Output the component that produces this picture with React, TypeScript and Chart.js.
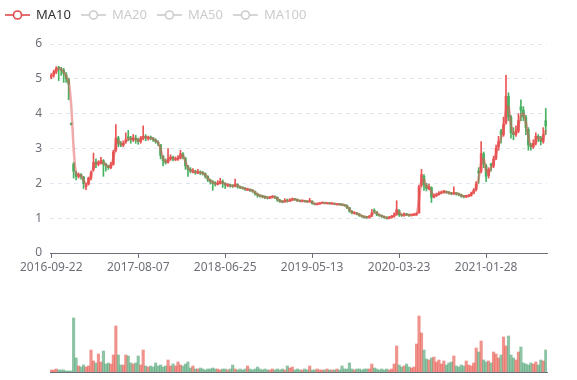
import React, { useEffect, useRef } from 'react';
import { Chart, registerables } from 'chart.js';

Chart.register(...registerables);

const tickLabels = ['2016-09-22', '2017-08-07', '2018-06-25', '2019-05-13', '2020-03-23', '2021-01-28'];
const tickEvery = 35;
const legendNames = ['MA10', 'MA20', 'MA50', 'MA100'];
const maWindow = 2;

const opens = [
  5.05, 5.10, 5.20, 5.32, 5.28, 5.25, 5.12, 4.98, 3.72, 2.55,
  2.30, 2.20, 2.25, 2.18, 1.90, 1.98, 2.15, 2.40, 2.62, 2.55,
  2.58, 2.65, 2.55, 2.50, 2.45, 2.55, 2.95, 3.30, 3.15, 3.10,
  3.20, 3.34, 3.30, 3.24, 3.30, 3.26, 3.20, 3.30, 3.35, 3.28,
  3.32, 3.30, 3.25, 3.18, 3.10, 2.78, 2.65, 2.60, 2.70, 2.75,
  2.68, 2.70, 2.72, 2.85, 2.72, 2.50, 2.40, 2.33, 2.35, 2.30,
  2.32, 2.30, 2.28, 2.20, 2.10, 2.05, 2.00, 1.98, 2.00, 2.05,
  2.00, 1.94, 1.95, 1.93, 1.92, 1.97, 1.90, 1.88, 1.86, 1.81,
  1.82, 1.80, 1.77, 1.70, 1.66, 1.63, 1.62, 1.60, 1.58, 1.60,
  1.62, 1.60, 1.52, 1.48, 1.47, 1.50, 1.49, 1.52, 1.55, 1.54,
  1.50, 1.49, 1.50, 1.48, 1.47, 1.49, 1.42, 1.40, 1.41, 1.43,
  1.44, 1.42, 1.43, 1.41, 1.42, 1.39, 1.40, 1.39, 1.38, 1.37,
  1.30, 1.20, 1.14, 1.15, 1.12, 1.08, 1.05, 1.03, 1.02, 1.06,
  1.22, 1.18, 1.10, 1.08, 1.05, 1.02, 1.00, 1.02, 1.05, 1.10,
  1.22, 1.10, 1.08, 1.11, 1.10, 1.08, 1.09, 1.10, 1.15, 1.95,
  2.20, 1.95, 1.85, 1.88, 1.60, 1.65, 1.68, 1.72, 1.75, 1.76,
  1.74, 1.72, 1.70, 1.72, 1.70, 1.68, 1.63, 1.62, 1.63, 1.65,
  1.72, 1.82, 2.35, 2.35, 2.85, 2.50, 2.22, 2.55, 2.50, 2.72,
  3.05, 3.50, 3.40, 3.75, 4.50, 3.90, 3.45, 3.40, 3.50, 4.20,
  4.10, 3.90, 3.55, 3.10, 3.05, 3.15, 3.35, 3.30, 3.20, 3.80,
];

const closes = [
  5.10, 5.20, 5.30, 5.30, 5.25, 5.15, 5.00, 4.85, 3.70, 2.35,
  2.20, 2.25, 2.20, 2.00, 1.95, 2.15, 2.30, 2.60, 2.55, 2.60,
  2.65, 2.55, 2.50, 2.45, 2.55, 2.90, 3.30, 3.15, 3.10, 3.15,
  3.25, 3.30, 3.25, 3.30, 3.25, 3.20, 3.30, 3.35, 3.30, 3.30,
  3.30, 3.25, 3.20, 3.15, 2.80, 2.65, 2.60, 2.70, 2.75, 2.70,
  2.70, 2.72, 2.85, 2.75, 2.50, 2.40, 2.35, 2.35, 2.30, 2.32,
  2.30, 2.28, 2.20, 2.10, 2.05, 2.00, 1.98, 2.00, 2.05, 2.00,
  1.95, 1.95, 1.93, 1.92, 1.98, 1.90, 1.88, 1.86, 1.83, 1.82,
  1.80, 1.78, 1.70, 1.66, 1.63, 1.62, 1.60, 1.58, 1.60, 1.62,
  1.60, 1.52, 1.48, 1.47, 1.50, 1.49, 1.52, 1.55, 1.54, 1.50,
  1.49, 1.50, 1.48, 1.47, 1.50, 1.42, 1.40, 1.41, 1.43, 1.44,
  1.43, 1.43, 1.42, 1.42, 1.40, 1.40, 1.39, 1.38, 1.37, 1.30,
  1.20, 1.15, 1.15, 1.12, 1.08, 1.05, 1.03, 1.02, 1.05, 1.15,
  1.20, 1.10, 1.08, 1.05, 1.02, 1.00, 1.02, 1.05, 1.10, 1.25,
  1.10, 1.08, 1.10, 1.10, 1.08, 1.10, 1.10, 1.12, 1.90, 2.25,
  1.95, 1.85, 1.90, 1.60, 1.65, 1.68, 1.72, 1.75, 1.76, 1.74,
  1.72, 1.70, 1.72, 1.70, 1.68, 1.63, 1.62, 1.63, 1.65, 1.72,
  1.80, 1.98, 2.30, 2.85, 2.55, 2.20, 2.40, 2.50, 2.70, 3.00,
  3.20, 3.40, 3.70, 4.50, 3.90, 3.45, 3.40, 3.50, 3.80, 4.10,
  3.90, 3.60, 3.10, 3.05, 3.15, 3.35, 3.30, 3.20, 3.40, 3.65,
];

const highs = [
  5.15, 5.25, 5.35, 5.36, 5.33, 5.30, 5.18, 5.02, 3.72, 2.60,
  2.35, 2.30, 2.28, 2.20, 2.00, 2.18, 2.35, 2.87, 2.70, 2.65,
  2.75, 2.68, 2.58, 2.52, 2.60, 2.95, 3.69, 3.35, 3.20, 3.22,
  3.45, 3.52, 3.35, 3.40, 3.38, 3.30, 3.35, 3.65, 3.40, 3.36,
  3.36, 3.32, 3.28, 3.22, 3.12, 2.80, 2.70, 3.00, 2.82, 2.78,
  2.76, 2.80, 2.95, 2.88, 2.75, 2.52, 2.45, 2.42, 2.38, 2.40,
  2.36, 2.34, 2.30, 2.22, 2.12, 2.08, 2.05, 2.08, 2.15, 2.10,
  2.02, 1.99, 1.98, 1.96, 2.12, 1.99, 1.92, 1.90, 1.88, 1.86,
  1.84, 1.82, 1.78, 1.72, 1.68, 1.66, 1.64, 1.62, 1.63, 1.65,
  1.64, 1.61, 1.54, 1.50, 1.56, 1.55, 1.56, 1.58, 1.57, 1.55,
  1.52, 1.52, 1.51, 1.50, 1.57, 1.50, 1.43, 1.43, 1.45, 1.46,
  1.45, 1.45, 1.44, 1.44, 1.43, 1.42, 1.41, 1.41, 1.39, 1.38,
  1.31, 1.22, 1.18, 1.16, 1.13, 1.09, 1.06, 1.05, 1.08, 1.25,
  1.27, 1.19, 1.12, 1.09, 1.06, 1.04, 1.05, 1.08, 1.15, 1.50,
  1.25, 1.13, 1.15, 1.14, 1.12, 1.12, 1.13, 1.16, 1.95, 2.40,
  2.25, 2.00, 1.98, 1.90, 1.70, 1.72, 1.76, 1.78, 1.80, 1.78,
  1.76, 1.74, 1.90, 1.74, 1.72, 1.69, 1.65, 1.66, 1.68, 1.75,
  1.85, 2.05, 2.45, 3.20, 2.90, 2.55, 2.45, 2.58, 2.78, 3.10,
  3.35, 3.55, 3.90, 5.10, 4.60, 3.95, 3.60, 3.65, 4.00, 4.40,
  4.20, 3.95, 3.60, 3.15, 3.25, 3.45, 3.40, 3.35, 3.60, 4.15,
];

const lows = [
  5.00, 5.05, 5.15, 4.95, 5.10, 4.90, 4.90, 4.40, 3.68, 2.15,
  2.10, 2.15, 2.12, 1.85, 1.82, 1.95, 2.10, 2.35, 2.45, 2.50,
  2.55, 2.20, 2.35, 2.40, 2.42, 2.52, 2.90, 3.05, 3.05, 3.05,
  3.15, 3.22, 3.15, 3.20, 3.15, 3.12, 3.15, 3.25, 3.22, 3.24,
  3.25, 3.20, 3.15, 3.08, 2.70, 2.50, 2.55, 2.58, 2.66, 2.64,
  2.65, 2.66, 2.70, 2.70, 2.40, 2.20, 2.30, 2.30, 2.26, 2.28,
  2.25, 2.24, 2.15, 2.05, 1.98, 1.80, 1.92, 1.95, 1.98, 1.88,
  1.85, 1.90, 1.89, 1.88, 1.90, 1.86, 1.85, 1.83, 1.80, 1.79,
  1.77, 1.74, 1.66, 1.60, 1.60, 1.58, 1.56, 1.55, 1.56, 1.58,
  1.56, 1.48, 1.45, 1.44, 1.46, 1.46, 1.48, 1.50, 1.51, 1.48,
  1.47, 1.47, 1.46, 1.45, 1.46, 1.40, 1.38, 1.38, 1.40, 1.42,
  1.41, 1.41, 1.40, 1.40, 1.39, 1.38, 1.37, 1.36, 1.34, 1.27,
  1.17, 1.12, 1.12, 1.09, 1.05, 1.02, 1.00, 0.99, 1.00, 1.04,
  1.14, 1.07, 1.05, 1.02, 0.99, 0.97, 0.98, 1.00, 1.03, 1.08,
  1.05, 1.05, 1.06, 1.07, 1.05, 1.06, 1.07, 1.08, 1.14, 1.90,
  1.80, 1.78, 1.82, 1.45, 1.58, 1.62, 1.66, 1.70, 1.72, 1.71,
  1.69, 1.67, 1.68, 1.66, 1.64, 1.60, 1.58, 1.59, 1.61, 1.63,
  1.70, 1.78, 2.00, 2.30, 2.45, 2.05, 2.15, 2.35, 2.45, 2.68,
  2.95, 3.15, 3.35, 3.70, 3.80, 3.30, 3.25, 3.35, 3.45, 3.80,
  3.80, 3.40, 2.95, 2.95, 3.00, 3.10, 3.20, 3.10, 3.15, 3.40,
];

const volumes = [
  2, 2, 3, 2, 2, 2, 1, 1, 1, 54,
  14, 6, 5, 7, 5, 6, 22, 11, 9, 18,
  10, 21, 8, 9, 8, 17, 46, 17, 7, 7,
  17, 16, 9, 8, 9, 16, 7, 22, 6, 5,
  6, 5, 9, 6, 7, 5, 6, 12, 6, 8,
  6, 10, 7, 6, 8, 10, 4, 6, 3, 3,
  4, 3, 2, 3, 3, 4, 3, 3, 2, 3,
  3, 2, 3, 7, 3, 2, 3, 2, 3, 6,
  3, 2, 3, 5, 3, 2, 3, 2, 2, 3,
  2, 3, 2, 3, 2, 6, 4, 5, 2, 3,
  2, 2, 3, 2, 6, 2, 2, 3, 2, 2,
  2, 3, 2, 2, 2, 3, 2, 6, 3, 3,
  9, 3, 2, 3, 3, 2, 3, 3, 3, 8,
  4, 3, 2, 3, 2, 3, 2, 3, 8, 26,
  7, 5, 6, 8, 5, 4, 5, 28, 56, 39,
  22, 13, 12, 14, 15, 10, 12, 8, 11, 7,
  9, 10, 16, 6, 5, 7, 6, 11, 7, 6,
  9, 24, 20, 31, 12, 10, 11, 9, 20, 18,
  14, 17, 35, 26, 36, 17, 14, 12, 20, 25,
  9, 8, 7, 9, 8, 10, 7, 12, 11, 22,
];

const UP = '#eb5454';
const DOWN = '#47b262';
const UP_VOL = 'rgba(230,80,70,0.62)';
const DOWN_VOL = 'rgba(71,160,110,0.62)';
const AXIS = '#6E7079';
const FONT = '"Noto Sans", sans-serif';

const labels = closes.map((_, i) => i);
const isUp = closes.map((c, i) => c >= opens[i]);
const candleColors = isUp.map((u) => (u ? UP : DOWN));
const volumeColors = isUp.map((u) => (u ? UP_VOL : DOWN_VOL));
const ma = closes.map((_, i) => {
  if (i < maWindow - 1) return null;
  let s = 0;
  for (let k = 0; k < maWindow; k++) s += closes[i - k];
  return s / maWindow;
});

const legendPlugin = {
  id: 'maLegend',
  afterDraw(chart: any) {
    const ctx = chart.ctx;
    ctx.save();
    ctx.font = `13px ${FONT}`;
    ctx.textBaseline = 'middle';
    let x = 5;
    const y = 15;
    legendNames.forEach((name, i) => {
      const col = i === 0 ? '#dd4b4b' : '#cccccc';
      ctx.strokeStyle = col;
      ctx.lineWidth = 1.6;
      ctx.beginPath();
      ctx.moveTo(x, y);
      ctx.lineTo(x + 25, y);
      ctx.stroke();
      ctx.beginPath();
      ctx.arc(x + 12.5, y, 4, 0, Math.PI * 2);
      ctx.fillStyle = '#ffffff';
      ctx.fill();
      ctx.stroke();
      ctx.fillStyle = i === 0 ? '#333333' : '#cccccc';
      ctx.textAlign = 'left';
      ctx.fillText(name, x + 31, y + 0.5);
      x += 31 + ctx.measureText(name).width + 10;
    });
    ctx.restore();
  },
};

export default function App() {
  const priceRef = useRef<HTMLCanvasElement>(null);
  const volRef = useRef<HTMLCanvasElement>(null);

  useEffect(() => {
    const font = { family: FONT, size: 12 };
    const price = new Chart(priceRef.current as HTMLCanvasElement, {
      type: 'bar',
      data: {
        labels,
        datasets: [
          {
            type: 'line',
            label: 'MA10',
            data: ma,
            borderColor: 'rgba(226,86,86,0.5)',
            borderWidth: 2.5,
            pointRadius: 0,
            tension: 0.3,
            order: 0,
          } as any,
          {
            type: 'bar',
            label: 'wick',
            data: lows.map((l, i) => [l, highs[i]]),
            backgroundColor: candleColors,
            barThickness: 1,
            grouped: false,
            order: 2,
          } as any,
          {
            type: 'bar',
            label: 'body',
            data: opens.map((o, i) => [o, closes[i]]),
            backgroundColor: candleColors,
            barThickness: 2,
            minBarLength: 1,
            grouped: false,
            order: 1,
          } as any,
        ],
      },
      options: {
        animation: false,
        responsive: false,
        events: [],
        layout: { padding: { top: 44, right: 30, left: 0, bottom: 0 } },
        plugins: { legend: { display: false }, tooltip: { enabled: false } },
        scales: {
          x: {
            type: 'category',
            offset: true,
            grid: {
              offset: false,
              drawOnChartArea: false,
              drawTicks: true,
              tickLength: 5,
              color: (c: any) => (c.index % tickEvery === 0 ? AXIS : 'rgba(0,0,0,0)'),
            },
            border: { display: true, color: AXIS, width: 1 },
            ticks: {
              autoSkip: false,
              maxRotation: 0,
              minRotation: 0,
              padding: 2,
              color: AXIS,
              font,
              callback: (_v: any, i: number) => (i % tickEvery === 0 ? tickLabels[i / tickEvery] : ''),
            },
            afterFit: (s: any) => {
              s.height = 37;
            },
          },
          y: {
            min: 0,
            max: 6,
            ticks: { stepSize: 1, padding: 8, color: AXIS, font },
            grid: { color: '#E0E6F1', drawTicks: false },
            border: { display: false, dash: [4, 4] },
            afterFit: (s: any) => {
              s.width = 50;
            },
          },
        },
      } as any,
      plugins: [legendPlugin],
    });

    const vol = new Chart(volRef.current as HTMLCanvasElement, {
      type: 'bar',
      data: {
        labels,
        datasets: [
          {
            label: 'Volume',
            data: volumes,
            backgroundColor: volumeColors,
            barPercentage: 1,
            categoryPercentage: 1,
            grouped: false,
          } as any,
        ],
      },
      options: {
        animation: false,
        responsive: false,
        events: [],
        layout: { padding: { top: 12, right: 30, left: 50, bottom: 0 } },
        plugins: { legend: { display: false }, tooltip: { enabled: false } },
        scales: {
          x: {
            offset: true,
            ticks: { display: false },
            grid: { display: false },
            border: { display: true, color: AXIS },
            afterFit: (s: any) => {
              s.height = 8;
            },
          },
          y: { display: false, min: 0, max: 60 },
        },
      } as any,
    });

    return () => {
      price.destroy();
      vol.destroy();
    };
  }, []);

  return (
    <div style={{ position: 'fixed', left: 0, top: 0, width: 577, height: 380, background: '#fff' }}>
      <canvas
        ref={priceRef}
        width={577}
        height={290}
        style={{ position: 'absolute', left: 0, top: 0, width: 577, height: 290, display: 'block' }}
      />
      <canvas
        ref={volRef}
        width={577}
        height={80}
        style={{ position: 'absolute', left: 0, top: 300, width: 577, height: 80, display: 'block' }}
      />
    </div>
  );
}
